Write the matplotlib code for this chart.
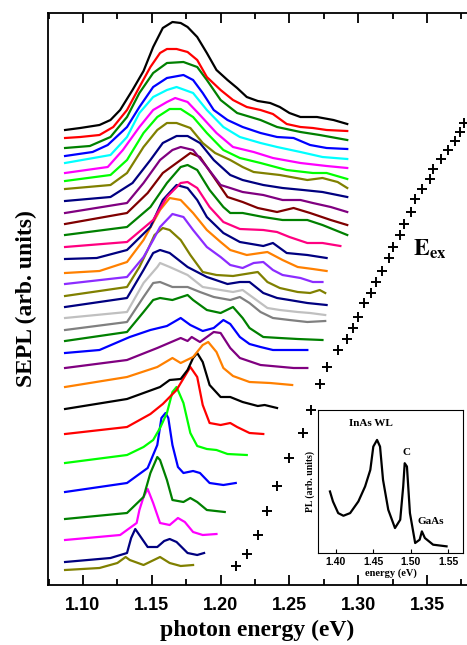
import matplotlib.pyplot as plt
from matplotlib.ticker import MultipleLocator

# SEPL spectra, bottom (lowest excitation) to top; (photon energy eV, offset intensity arb.)
spectra = [
    [(1.087, 15), (1.112, 17), (1.125, 22), (1.131, 28), (1.134, 25), (1.144, 20), (1.156, 28),
     (1.163, 22), (1.171, 19), (1.180, 20)],
    [(1.087, 23), (1.120, 27), (1.132, 32), (1.135, 47), (1.138, 56), (1.141, 50), (1.147, 38),
     (1.154, 38), (1.159, 44), (1.163, 46), (1.168, 43), (1.176, 32), (1.183, 30), (1.188, 32)],
    [(1.087, 45), (1.127, 50), (1.139, 62), (1.141, 75), (1.144, 88), (1.147, 96), (1.151, 82),
     (1.156, 62), (1.163, 60), (1.169, 67), (1.174, 63), (1.180, 53), (1.187, 50), (1.197, 51)],
    [(1.087, 66), (1.132, 72), (1.144, 88), (1.149, 112), (1.154, 128), (1.156, 125), (1.161, 105),
     (1.165, 85), (1.173, 83), (1.178, 87), (1.183, 83), (1.190, 75), (1.203, 73)],
    [(1.087, 93), (1.132, 102), (1.147, 117), (1.154, 140), (1.157, 167), (1.160, 172), (1.162, 167),
     (1.165, 140), (1.169, 118), (1.173, 112), (1.180, 114), (1.185, 112), (1.192, 102),
     (1.202, 100), (1.211, 102)],
    [(1.087, 122), (1.132, 130), (1.144, 138), (1.151, 145), (1.156, 157), (1.161, 172), (1.165, 193),
     (1.168, 198), (1.173, 182), (1.178, 152), (1.183, 139), (1.190, 136), (1.197, 135),
     (1.205, 131), (1.219, 130)],
    [(1.087, 151), (1.132, 158), (1.149, 171), (1.158, 181), (1.168, 195), (1.178, 218), (1.183, 208),
     (1.187, 180), (1.192, 162), (1.200, 160), (1.207, 162), (1.212, 158), (1.221, 152),
     (1.231, 151)],
    [(1.087, 176), (1.132, 186), (1.156, 198), (1.163, 205), (1.171, 206), (1.176, 215), (1.180, 227),
     (1.183, 232), (1.187, 223), (1.192, 200), (1.200, 188), (1.207, 188), (1.216, 183),
     (1.227, 179), (1.232, 180), (1.241, 177)],
    [(1.087, 198), (1.132, 208), (1.154, 218), (1.165, 227), (1.171, 222), (1.180, 228), (1.187, 240),
     (1.191, 243), (1.197, 233), (1.202, 217), (1.209, 209), (1.221, 203), (1.236, 202),
     (1.252, 200)],
    [(1.087, 217), (1.132, 225), (1.154, 237), (1.171, 247), (1.176, 244), (1.179, 248), (1.185, 243),
     (1.195, 253), (1.200, 252), (1.207, 237), (1.214, 227), (1.229, 220), (1.253, 217),
     (1.263, 217)],
    [(1.087, 232), (1.112, 235), (1.134, 248), (1.149, 255), (1.161, 259), (1.171, 267), (1.178, 260),
     (1.187, 254), (1.195, 257), (1.202, 265), (1.207, 261), (1.214, 248), (1.221, 241),
     (1.229, 238), (1.238, 235), (1.250, 235), (1.263, 235)],
    [(1.087, 244), (1.132, 253), (1.144, 273), (1.151, 285), (1.156, 287), (1.165, 285), (1.176, 290),
     (1.180, 285), (1.190, 275), (1.200, 272), (1.209, 278), (1.216, 267), (1.221, 257),
     (1.231, 248), (1.243, 247), (1.256, 246), (1.274, 245)],
    [(1.087, 255), (1.132, 263), (1.144, 288), (1.151, 302), (1.156, 303), (1.165, 298), (1.176, 298),
     (1.185, 293), (1.195, 288), (1.207, 285), (1.214, 288), (1.221, 282), (1.229, 273),
     (1.238, 267), (1.250, 265), (1.263, 263), (1.276, 264)],
    [(1.087, 267), (1.132, 273), (1.144, 302), (1.154, 318), (1.156, 322), (1.163, 318), (1.176, 310),
     (1.187, 298), (1.200, 295), (1.209, 293), (1.216, 295), (1.227, 284), (1.234, 277),
     (1.243, 275), (1.256, 273), (1.265, 272), (1.276, 270)],
    [(1.087, 278), (1.132, 287), (1.144, 315), (1.151, 332), (1.156, 335), (1.163, 332), (1.176, 318),
     (1.190, 308), (1.205, 301), (1.214, 303), (1.221, 303), (1.231, 292), (1.241, 287),
     (1.250, 285), (1.263, 282), (1.277, 280)],
    [(1.087, 289), (1.132, 298), (1.141, 318), (1.147, 335), (1.152, 350), (1.158, 357), (1.163, 355),
     (1.171, 345), (1.178, 330), (1.187, 313), (1.197, 310), (1.209, 309), (1.227, 313),
     (1.234, 303), (1.243, 297), (1.256, 293), (1.265, 292), (1.272, 295), (1.276, 292)],
    [(1.087, 301), (1.132, 308), (1.144, 328), (1.151, 345), (1.156, 358), (1.165, 371), (1.173, 368),
     (1.180, 355), (1.190, 338), (1.200, 328), (1.207, 320), (1.216, 317), (1.224, 322),
     (1.231, 323), (1.238, 315), (1.245, 310), (1.258, 307), (1.267, 303), (1.274, 303)],
    [(1.087, 312), (1.112, 314), (1.132, 323), (1.144, 345), (1.156, 375), (1.163, 387), (1.171, 385),
     (1.180, 372), (1.190, 355), (1.200, 343), (1.207, 335), (1.219, 330), (1.234, 333),
     (1.245, 325), (1.256, 318), (1.267, 316), (1.277, 314)],
    [(1.087, 326), (1.110, 327), (1.132, 335), (1.149, 358), (1.158, 385), (1.168, 400), (1.176, 397),
     (1.183, 385), (1.190, 368), (1.202, 352), (1.214, 343), (1.231, 339), (1.238, 342),
     (1.248, 332), (1.263, 330), (1.277, 327)],
    [(1.087, 338), (1.132, 343), (1.151, 365), (1.161, 388), (1.171, 402), (1.176, 403), (1.183, 397),
     (1.192, 378), (1.202, 363), (1.214, 356), (1.231, 355), (1.241, 353), (1.250, 348),
     (1.263, 342), (1.274, 342), (1.287, 339)],
    [(1.087, 350), (1.132, 358), (1.149, 378), (1.161, 402), (1.171, 418), (1.176, 420), (1.183, 415),
     (1.192, 395), (1.202, 378), (1.207, 372), (1.216, 372), (1.231, 368), (1.245, 365),
     (1.263, 365), (1.274, 360), (1.292, 350)],
    [(1.087, 361), (1.132, 372), (1.147, 392), (1.158, 412), (1.171, 425), (1.178, 432), (1.185, 428),
     (1.195, 408), (1.205, 388), (1.216, 383), (1.227, 377), (1.241, 373), (1.253, 377),
     (1.265, 372), (1.280, 365), (1.292, 360)],
    [(1.087, 372), (1.132, 382), (1.144, 402), (1.156, 425), (1.165, 435), (1.171, 438), (1.180, 435),
     (1.190, 418), (1.200, 400), (1.207, 397), (1.216, 393), (1.231, 390), (1.245, 385),
     (1.258, 385), (1.267, 382), (1.280, 378), (1.292, 373)],
    [(1.087, 384), (1.120, 388), (1.136, 402), (1.149, 425), (1.158, 442), (1.168, 449), (1.176, 449),
     (1.185, 442), (1.195, 425), (1.207, 410), (1.216, 405), (1.231, 400), (1.245, 397),
     (1.260, 395), (1.274, 393), (1.292, 388)],
    [(1.087, 396), (1.120, 400), (1.132, 412), (1.144, 438), (1.154, 455), (1.161, 462), (1.168, 462),
     (1.178, 457), (1.187, 442), (1.196, 432), (1.207, 425), (1.216, 418), (1.224, 413),
     (1.243, 410), (1.263, 405), (1.274, 407), (1.285, 403), (1.292, 397)],
    [(1.087, 404), (1.120, 410), (1.132, 425), (1.144, 452), (1.154, 468), (1.163, 476), (1.171, 476),
     (1.180, 468), (1.190, 452), (1.202, 435), (1.214, 427), (1.229, 422), (1.248, 415),
     (1.267, 412), (1.277, 412), (1.292, 406)],
    [(1.087, 412), (1.118, 418), (1.129, 435), (1.141, 458), (1.151, 475), (1.161, 483), (1.167, 487),
     (1.176, 483), (1.185, 470), (1.197, 452), (1.209, 438), (1.224, 433), (1.238, 427),
     (1.258, 422), (1.277, 419), (1.292, 417)],
    [(1.087, 422), (1.120, 430), (1.132, 448), (1.141, 472), (1.151, 488), (1.161, 495), (1.168, 498),
     (1.180, 492), (1.190, 475), (1.202, 458), (1.214, 448), (1.229, 442), (1.241, 438),
     (1.258, 433), (1.274, 428), (1.292, 426)],
    [(1.087, 429), (1.107, 433), (1.118, 440), (1.132, 458), (1.141, 478), (1.151, 498), (1.161, 507),
     (1.173, 510), (1.180, 505), (1.187, 492), (1.195, 475), (1.205, 465), (1.216, 458),
     (1.229, 452), (1.241, 448), (1.253, 447), (1.265, 440), (1.277, 437), (1.292, 436)],
    [(1.087, 437), (1.105, 439), (1.120, 448), (1.132, 468), (1.141, 492), (1.151, 512), (1.161, 522),
     (1.173, 523), (1.183, 518), (1.190, 505), (1.200, 485), (1.212, 472), (1.229, 465),
     (1.241, 458), (1.258, 453), (1.272, 450), (1.292, 445)],
    [(1.087, 447), (1.098, 448), (1.112, 450), (1.122, 458), (1.132, 475), (1.141, 498), (1.149, 518),
     (1.156, 532), (1.161, 536), (1.168, 536), (1.176, 533), (1.183, 525), (1.190, 508),
     (1.200, 495), (1.209, 485), (1.219, 478), (1.229, 475), (1.238, 471), (1.248, 461),
     (1.258, 458), (1.267, 457), (1.277, 455), (1.292, 454)],
    [(1.087, 455), (1.098, 457), (1.112, 460), (1.120, 465), (1.127, 475), (1.136, 495), (1.144, 514),
     (1.151, 538), (1.158, 557), (1.165, 563), (1.171, 562), (1.176, 558), (1.183, 548),
     (1.190, 532), (1.197, 515), (1.205, 505), (1.212, 497), (1.219, 488), (1.227, 484),
     (1.236, 482), (1.243, 478), (1.250, 472), (1.258, 468), (1.270, 468), (1.282, 465),
     (1.292, 461)],
]

colors = ['#808000', '#000080', '#ff00ff', '#008000', '#0000ff', '#00ff00', '#ff0000', '#000000',
          '#ff8000', '#800080', '#0000ff', '#008000', '#808080', '#c0c0c0', '#000080', '#808000',
          '#8c2cff', '#ff8000', '#000080', '#ff0080', '#008000', '#800000', '#800080', '#000080',
          '#808000', '#00ff00', '#ff00ff', '#00ffff', '#0000ff', '#008000', '#ff0000', '#000000']

# excitation energies (crosses), with their level in the stack
ex_energy = [1.211, 1.219, 1.227, 1.234, 1.241, 1.250, 1.260, 1.266, 1.272, 1.277, 1.285, 1.292,
             1.296, 1.300, 1.304, 1.309, 1.313, 1.317, 1.322, 1.325, 1.330, 1.333, 1.338, 1.341,
             1.346, 1.352, 1.354, 1.360, 1.365, 1.370, 1.374, 1.377]
ex_level = [19, 31, 50, 74, 99, 127, 152, 175, 201, 218, 235, 246, 257, 268, 282, 292, 303, 314,
            327, 338, 350, 361, 373, 386, 396, 406, 416, 426, 435, 444, 453, 462]

# inset PL spectrum
pl_energy = [1.392, 1.396, 1.403, 1.410, 1.419, 1.430, 1.439, 1.446, 1.450, 1.455, 1.459, 1.463,
             1.470, 1.479, 1.486, 1.490, 1.492, 1.495, 1.499, 1.506, 1.512, 1.515, 1.519, 1.530, 1.548]
pl_int = [185, 155, 120, 112, 120, 155, 200, 250, 320, 340, 320, 220, 130, 75, 100, 200, 270, 260,
          120, 30, 40, 65, 45, 25, 20]

plt.rcParams['font.family'] = 'Liberation Sans'
plt.rcParams['mathtext.fontset'] = 'stix'

fig = plt.figure(figsize=(4.67, 6.45), dpi=100)
ax = fig.add_axes([48 / 467, 60 / 645, 1 - 48 / 467, 572 / 645])

for spec, c in zip(spectra, colors):
    ax.plot([p[0] for p in spec], [p[1] for p in spec], color=c, lw=1.6)

ax.plot(ex_energy, ex_level, ls='none', marker='+', color='black', ms=7, mew=1.4)
ax.text(1.340, 336, r'$\mathbf{E}_{\mathbf{ex}}$', fontsize=17, ha='left', va='center')

ax.set_xlim(1.0746, 1.379)
ax.set_ylim(0, 572)
ax.set_yticks([])
ax.xaxis.set_major_locator(MultipleLocator(0.05))
ax.xaxis.set_minor_locator(MultipleLocator(0.025))
ax.tick_params(axis='x', which='both', direction='in', top=True, width=1.3)
ax.tick_params(axis='x', which='major', length=7, labelsize=13, pad=9)
ax.tick_params(axis='x', which='minor', length=4)
for lab in ax.get_xticklabels():
    lab.set_fontweight('bold')
ax.spines['right'].set_visible(False)
for s in ['left', 'top', 'bottom']:
    ax.spines[s].set_linewidth(1.3)
ax.set_xlabel('photon energy (eV)', family='Liberation Serif', fontsize=17, fontweight='bold',
              labelpad=4)
ax.set_ylabel('SEPL (arb. units)', family='Liberation Serif', fontsize=17, fontweight='bold',
              labelpad=8)

# inset
ins = fig.add_axes([318 / 467, 92 / 645, 145 / 467, 143 / 645])
ins.plot(pl_energy, pl_int, color='black', lw=1.6)
ins.set_xlim(1.376, 1.570)
ins.set_ylim(0, 430)
ins.set_yticks([])
ins.set_xticks([1.40, 1.45, 1.50, 1.55])
ins.tick_params(axis='x', direction='in', length=3, labelsize=7.5, pad=3)
for lab in ins.get_xticklabels():
    lab.set_fontweight('bold')
ins.set_xlabel('energy (eV)', family='Liberation Serif', fontsize=7.5, fontweight='bold', labelpad=1)
ins.set_ylabel('PL (arb. units)', family='Liberation Serif', fontsize=7, fontweight='bold', labelpad=2)
ins.text(1.447, 375, 'InAs WL', family='Liberation Serif', fontsize=8, fontweight='bold',
         ha='center', va='bottom')
ins.text(1.495, 290, 'C', family='Liberation Serif', fontsize=8, fontweight='bold',
         ha='center', va='bottom')
ins.text(1.527, 95, 'GaAs', family='Liberation Serif', fontsize=8, fontweight='bold',
         ha='center', va='center')

fig.savefig('out.png', dpi=100)
